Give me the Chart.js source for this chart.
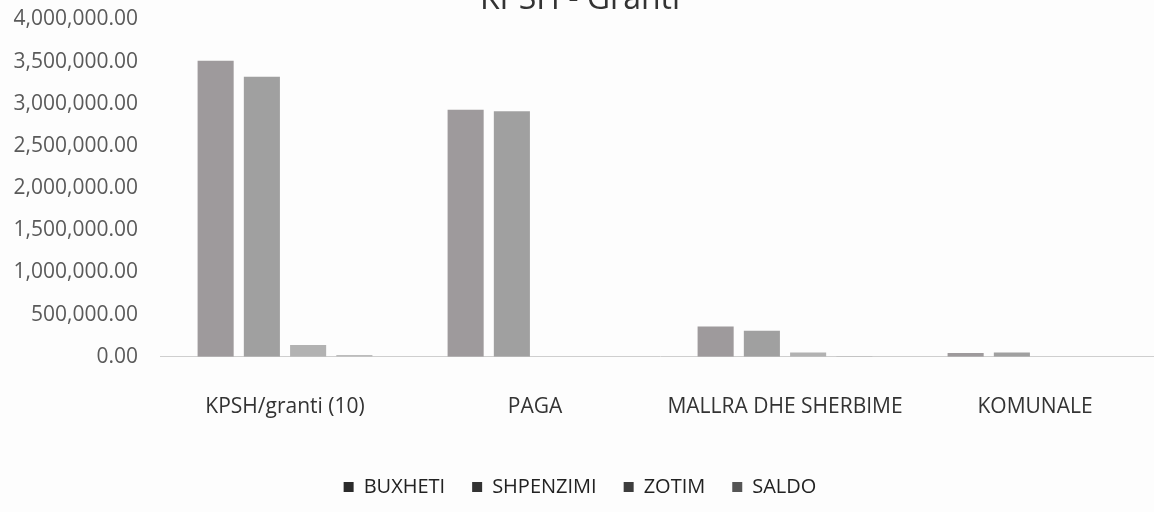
<!DOCTYPE html>
<html>
<head>
<meta charset="utf-8">
<script src="https://cdn.jsdelivr.net/npm/chart.js@4/dist/chart.umd.min.js"></script>
<style>
  html, body { margin: 0; padding: 0; background: #fdfdfd; overflow: hidden; }
  #wrap { position: absolute; left: 0; top: -19px; width: 1162px; height: 528px; }
</style>
</head>
<body>
<div id="wrap"><canvas id="chart"></canvas></div>
<script>
// ============ DATOS ============
const categories = ['KPSH/granti (10)', 'PAGA', 'MALLRA DHE SHERBIME', 'KOMUNALE'];
const buxheti   = [3510000, 2930000, 360000, 45000];
const shpenzimi = [3320000, 2910000, 310000, 50000];
const zotim     = [140000, 0, 50000, 0];
const saldo     = [20000, 0, 10000, 0];
const yTicks    = [0, 500000, 1000000, 1500000, 2000000, 2500000, 3000000, 3500000, 4000000];

const seriesNames = ['BUXHETI', 'SHPENZIMI', 'ZOTIM', 'SALDO'];
const barColors   = ['#9e9a9c', '#a0a0a0', '#b2b2b2', '#bcbcbc'];
const keyColors   = ['#2b2b2b', '#333333', '#3d3d3d', '#555555'];

const fmt = v => v.toLocaleString('en-US', { minimumFractionDigits: 2, maximumFractionDigits: 2 });

const ctx = document.getElementById('chart').getContext('2d');
new Chart(ctx, {
  type: 'bar',
  data: {
    labels: categories,
    datasets: [buxheti, shpenzimi, zotim, saldo].map((d, i) => ({
      label: seriesNames[i], data: d, backgroundColor: barColors[i],
      categoryPercentage: 0.74, barPercentage: 0.78
    }))
  },
  options: {
    responsive: true, maintainAspectRatio: false, animation: false,
    layout: { padding: { left: 0, right: 2, top: 0, bottom: 2 } },
    scales: {
      x: {
        grid: { display: false },
        border: { display: true, color: '#cfcfcf', width: 1 },
        ticks: { color: '#333', padding: 30, font: { family: 'Open Sans', size: 21 } }
      },
      y: {
        min: 0, max: 4000000,
        afterBuildTicks: s => { s.ticks = yTicks.map(v => ({ value: v })); },
        afterFit: s => { s.width = 160; },
        grid: { display: false },
        border: { display: false },
        ticks: { color: '#5a5a5a', padding: 14, callback: v => fmt(v), font: { family: 'Open Sans', size: 21 } }
      }
    },
    plugins: {
      title: {
        display: true, text: 'KPSH - Granti', color: '#333',
        font: { family: 'Open Sans', size: 32, weight: 'normal' },
        padding: { top: 0, bottom: 0 }
      },
      legend: {
        position: 'bottom',
        labels: {
          boxWidth: 10, boxHeight: 10, padding: 27, color: '#222',
          font: { family: 'Open Sans', size: 20 },
          generateLabels: chart => chart.data.datasets.map((ds, i) => ({
            text: ds.label, fillStyle: keyColors[i], strokeStyle: keyColors[i],
            lineWidth: 0, datasetIndex: i, hidden: false, fontColor: '#222'
          }))
        }
      },
      tooltip: { enabled: false }
    }
  }
});
</script>
</body>
</html>
